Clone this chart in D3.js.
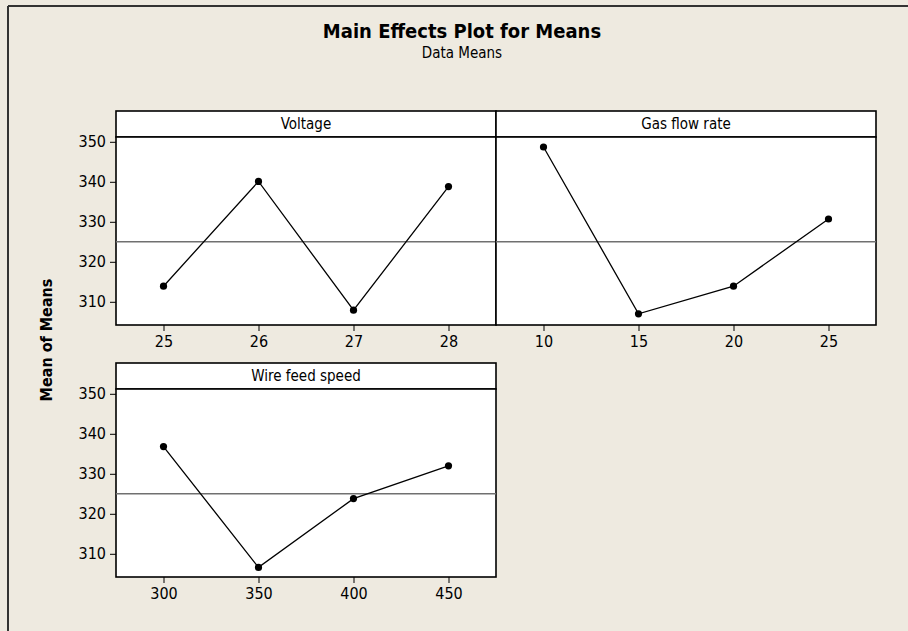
<html>
<script src="https://d3js.org/d3.v7.min.js"></script>
<style>
  body { margin: 0; background: #fff; }
  text { font-family: "DejaVu Sans Condensed", "DejaVu Sans", sans-serif; fill: #000; }
</style>
<body>
<svg id="chart" width="908" height="631"></svg>
<script>
// values
var voltageLevels = [25, 26, 27, 28];
var voltageMeans = [313.9, 340.1, 307.9, 338.8];
var gasLevels = [10, 15, 20, 25];
var gasMeans = [348.7, 307.0, 313.9, 330.7];
var wireLevels = [300, 350, 400, 450];
var wireMeans = [336.8, 306.6, 323.8, 332.0];
var grandMean = 325.0;
var yTicks = [310, 320, 330, 340, 350];

var panels = [
  {name: "Voltage", levels: voltageLevels, means: voltageMeans, dom: [24.5, 28.5], col: 0, row: 0},
  {name: "Gas flow rate", levels: gasLevels, means: gasMeans, dom: [7.5, 27.5], col: 1, row: 0},
  {name: "Wire feed speed", levels: wireLevels, means: wireMeans, dom: [275, 475], col: 0, row: 1}
];

var svg = d3.select("#chart");
var bg = "#eeeae0";

svg.append("rect").attr("width", 908).attr("height", 631).attr("fill", bg);
// outer frame (only left and top edges are in view)
svg.append("line").attr("x1", 8).attr("y1", 6).attr("x2", 8).attr("y2", 631).attr("stroke", "#333").attr("stroke-width", 2);
svg.append("line").attr("x1", 8).attr("y1", 6).attr("x2", 908).attr("y2", 6).attr("stroke", "#333").attr("stroke-width", 2);

svg.append("text").attr("x", 462).attr("y", 38).attr("text-anchor", "middle")
  .style("font-size", "20px").style("font-weight", "bold").text("Main Effects Plot for Means");
svg.append("text").attr("x", 462).attr("y", 58).attr("text-anchor", "middle")
  .style("font-size", "15px").text("Data Means");

svg.append("text").attr("transform", "translate(52,340) rotate(-90)").attr("text-anchor", "middle")
  .style("font-size", "16px").style("font-weight", "bold").text("Mean of Means");

var left = 116, colW = 380;
var rowTop = [111, 363], headH = 26, plotH = 188;

var y0 = d3.scaleLinear().domain([304.2, 351.2]).range([plotH, 0]);

panels.forEach(function(p) {
  var gx = left + p.col * colW;
  var gy = rowTop[p.row];
  var g = svg.append("g").attr("transform", "translate(" + gx + "," + gy + ")");
  var x = d3.scaleLinear().domain(p.dom).range([0, colW]);

  // header strip
  g.append("rect").attr("width", colW).attr("height", headH).attr("fill", "#fff")
    .attr("stroke", "#000").attr("stroke-width", 1.6);
  g.append("text").attr("x", colW / 2).attr("y", headH / 2 + 5).attr("text-anchor", "middle")
    .style("font-size", "15px").text(p.name);

  var pg = g.append("g").attr("transform", "translate(0," + headH + ")");
  pg.append("rect").attr("width", colW).attr("height", plotH).attr("fill", "#fff")
    .attr("stroke", "#000").attr("stroke-width", 1.6);

  // reference line at grand mean
  pg.append("line").attr("x1", 0).attr("x2", colW)
    .attr("y1", y0(grandMean)).attr("y2", y0(grandMean))
    .attr("stroke", "#707070").attr("stroke-width", 1.5);

  var pts = p.levels.map(function(l, i) { return [l, p.means[i]]; });
  pg.append("path").datum(pts)
    .attr("d", d3.line().x(function(d) { return x(d[0]); }).y(function(d) { return y0(d[1]); }))
    .attr("fill", "none").attr("stroke", "#000").attr("stroke-width", 1.3);
  pg.selectAll("circle").data(pts).enter().append("circle")
    .attr("cx", function(d) { return x(d[0]); }).attr("cy", function(d) { return y0(d[1]); })
    .attr("r", 3.6).attr("fill", "#000");

  var xa = pg.append("g").attr("transform", "translate(0," + plotH + ")")
    .call(d3.axisBottom(x).tickValues(p.levels).tickSize(6).tickPadding(5).tickFormat(d3.format("d")));
  xa.select(".domain").remove();
  xa.selectAll("text").style("font-size", "16px");

  if (p.col == 0) {
    var ya = pg.append("g").call(d3.axisLeft(y0).tickValues(yTicks).tickSize(6).tickPadding(4).tickFormat(d3.format("d")));
    ya.select(".domain").remove();
    ya.selectAll("text").style("font-size", "16px");
  }
});
</script>
</body>
</html>
